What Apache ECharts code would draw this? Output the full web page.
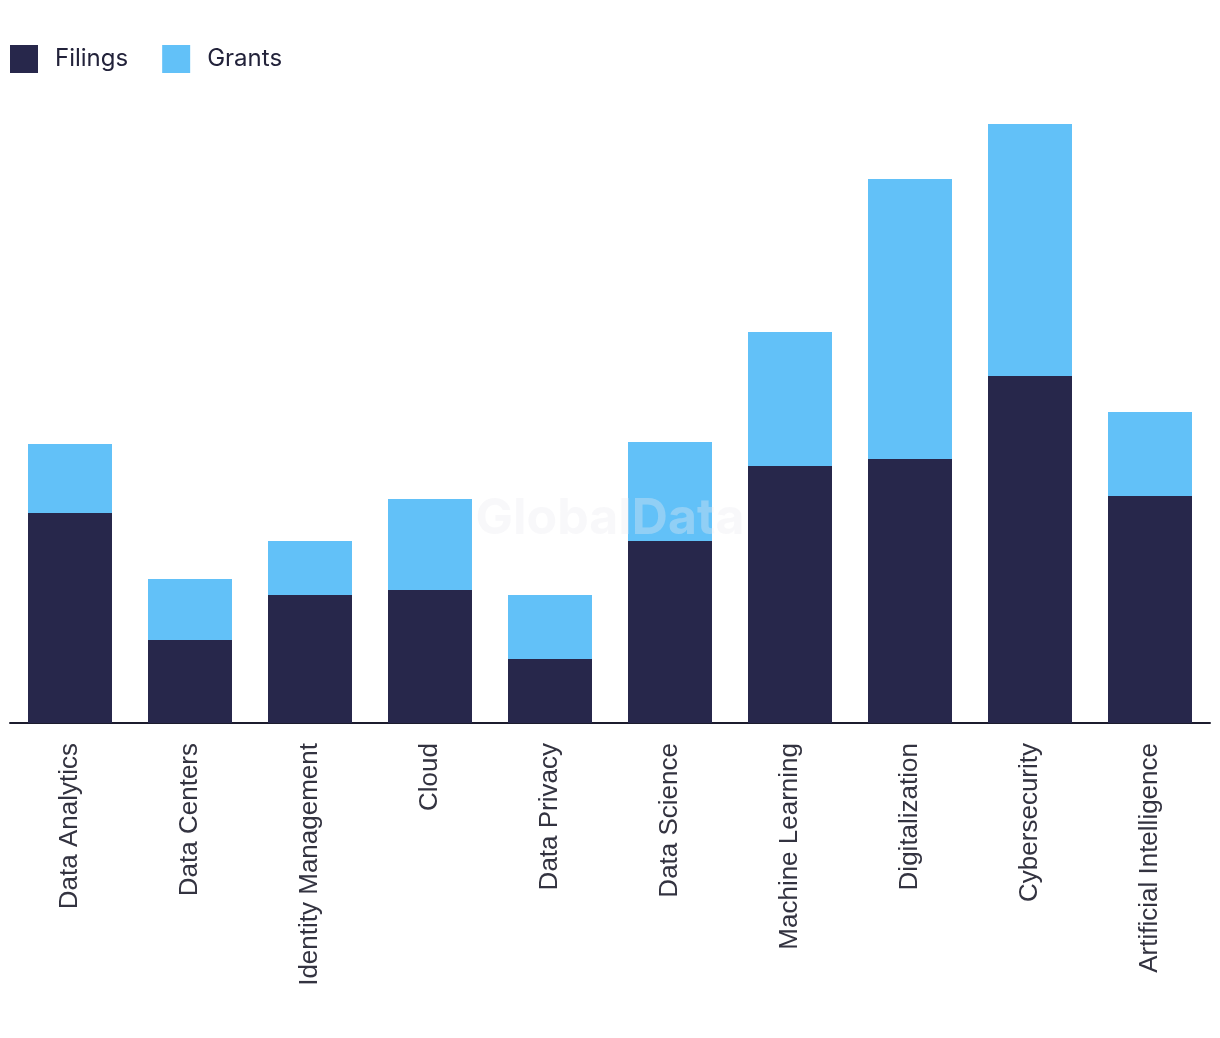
<!DOCTYPE html>
<html>
<head>
<meta charset="utf-8">
<script src="https://cdn.jsdelivr.net/npm/echarts@6/dist/echarts.min.js"></script>
<style>
html,body{margin:0;padding:0;background:#fff;}
#chart{width:1220px;height:1038px;}
</style>
</head>
<body>
<div id="chart"></div>
<script>
var categories = ["Data Analytics","Data Centers","Identity Management","Cloud","Data Privacy","Data Science","Machine Learning","Digitalization","Cybersecurity","Artificial Intelligence"];
var filings = [210, 83, 128, 133, 64, 182, 257, 264, 347, 227];
var grants = [69, 61, 54, 91, 64, 99, 134, 280, 252, 84];

var chart = echarts.init(document.getElementById('chart'));
chart.setOption({
  animation: false,
  backgroundColor: '#ffffff',
  legend: {
    left: 10, top: 45, padding: 0,
    itemWidth: 28, itemHeight: 28, itemGap: 34,
    icon: 'rect',
    textStyle: { fontFamily: 'Inter', fontSize: 24, color: '#22223a', padding: [0,0,0,12] },
    data: ['Filings','Grants']
  },
  grid: { left: 10, right: 10, top: 123, bottom: 315, containLabel: false },
  xAxis: {
    type: 'category',
    data: categories,
    axisLine: { show: true, lineStyle: { color: '#1c1c2e', width: 2 } },
    axisTick: { show: false },
    axisLabel: {
      rotate: 90, interval: 0, margin: 20,
      fontFamily: 'Liberation Sans', fontSize: 26, color: '#333340'
    }
  },
  yAxis: { type: 'value', min: 0, max: 600, show: false, splitLine: { show: false } },
  series: [
    { name: 'Filings', type: 'bar', stack: 'a', data: filings, barWidth: '70%', itemStyle: { color: '#27274b' } },
    { name: 'Grants', type: 'bar', stack: 'a', data: grants, barWidth: '70%', itemStyle: { color: '#62c1f8' } }
  ],
  graphic: [{
    type: 'text', left: 'center', top: 494, z: 100,
    style: { text: 'GlobalData', fontFamily: 'Inter', fontWeight: 'bold', fontSize: 50, fill: 'rgba(235,235,240,0.35)' }
  }]
});
</script>
</body>
</html>
